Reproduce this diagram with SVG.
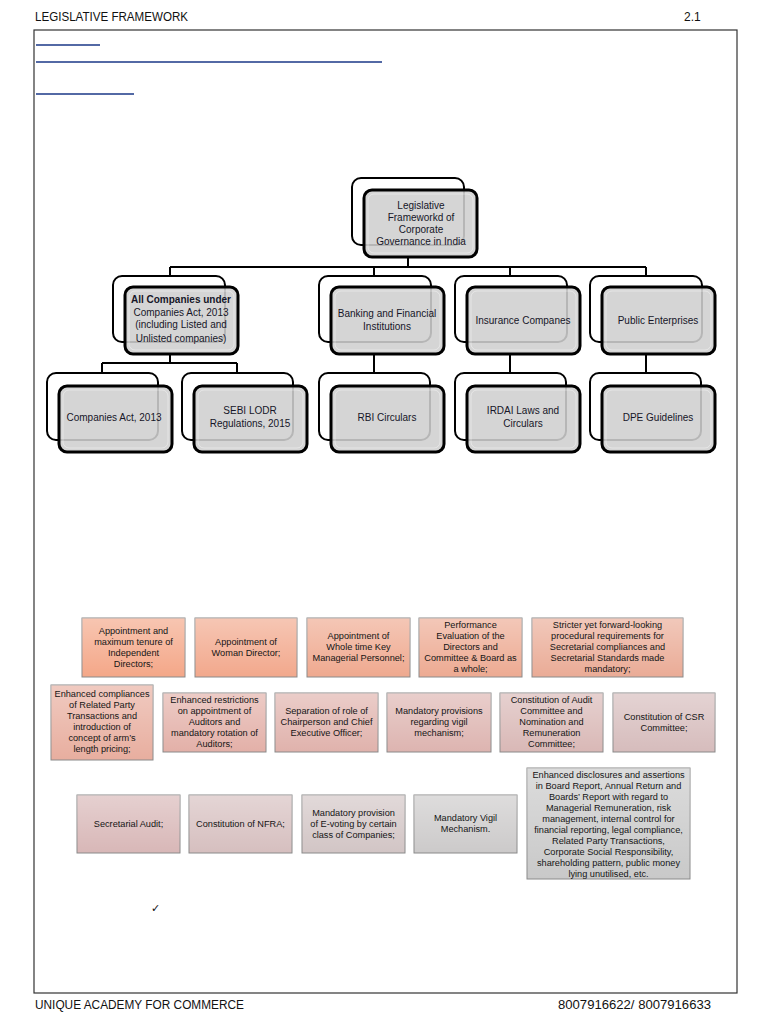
<svg xmlns="http://www.w3.org/2000/svg" width="768" height="1024" viewBox="0 0 768 1024">
<defs>
<linearGradient id="sheen" x1="0" y1="0" x2="0" y2="1">
<stop offset="0" stop-color="#ffffff" stop-opacity="0.35"/>
<stop offset="1" stop-color="#ffffff" stop-opacity="0"/>
</linearGradient>
<style>
.pg{font-family:"Liberation Sans",Arial,sans-serif;font-size:12px;fill:#111}
.back{fill:#ffffff;stroke:#000;stroke-width:2}
.front{fill:#cfcfcf;fill-opacity:0.88;stroke:#000;stroke-width:3}
.inner{fill:none;stroke:#ffffff;stroke-opacity:0.4;stroke-width:1}
.nt{font-family:"Liberation Sans",Arial,sans-serif;font-size:10px;fill:#161628;text-anchor:middle}
.bt{font-family:"Liberation Sans",Arial,sans-serif;font-size:9.2px;fill:#151515;text-anchor:middle}
.bx{stroke:#8a8a8a;stroke-width:1}
.sh{fill:url(#sheen)}
.con{fill:none;stroke:#000;stroke-width:2}
.ul{stroke:#1a3787;stroke-width:1.5}
</style>
</defs>
<rect width="768" height="1024" fill="#ffffff"/>
<text class="pg" x="35" y="21" textLength="153" lengthAdjust="spacingAndGlyphs">LEGISLATIVE FRAMEWORK</text>
<text class="pg" x="684" y="21">2.1</text>
<rect x="34" y="30" width="703" height="963" fill="none" stroke="#333" stroke-width="1.2"/>
<line class="ul" x1="36" y1="45" x2="100" y2="45"/>
<line class="ul" x1="36" y1="62" x2="382" y2="62"/>
<line class="ul" x1="36" y1="94" x2="134" y2="94"/>

<g id="connectors">
<path class="con" d="M408 257 V267 M170 267 H646 M170 267 V276 M374 267 V277 M510 267 V277 M646 267 V277"/>
<path class="con" d="M170 354 V363 M102 363 H237 M102 363 V373 M237 363 V373 M374 354 V373 M510 354 V373 M646 354 V373"/>
</g>

<g id="root">
<rect class="back" x="352" y="178" width="112" height="67" rx="9"/>
<rect class="front" x="364" y="190" width="113" height="67" rx="8"/>
<rect class="inner" x="368" y="194" width="105" height="59" rx="6"/>
<text class="nt" x="421" y="209">Legislative</text>
<text class="nt" x="421" y="221">Frameworkd of</text>
<text class="nt" x="421" y="233">Corporate</text>
<text class="nt" x="421" y="245">Governance in India</text>
</g>

<g id="all-companies">
<rect class="back" x="113" y="276" width="112" height="66" rx="9"/>
<rect class="front" x="125" y="287" width="113" height="67" rx="8"/>
<rect class="inner" x="129" y="291" width="105" height="59" rx="6"/>
<text class="nt" x="181" y="303" font-weight="bold" font-size="9">All Companies under</text>
<text class="nt" x="181" y="316">Companies Act, 2013</text>
<text class="nt" x="181" y="328">(including Listed and</text>
<text class="nt" x="181" y="342">Unlisted companies)</text>
</g>

<g id="banking">
<rect class="back" x="319" y="276" width="112" height="66" rx="9"/>
<rect class="front" x="331" y="287" width="113" height="67" rx="8"/>
<rect class="inner" x="335" y="291" width="105" height="59" rx="6"/>
<text class="nt" x="387" y="317">Banking and Financial</text>
<text class="nt" x="387" y="330">Institutions</text>
</g>

<g id="insurance">
<rect class="back" x="455" y="276" width="112" height="66" rx="9"/>
<rect class="front" x="467" y="287" width="113" height="67" rx="8"/>
<rect class="inner" x="471" y="291" width="105" height="59" rx="6"/>
<text class="nt" x="523" y="324">Insurance Companes</text>
</g>

<g id="public">
<rect class="back" x="590" y="276" width="112" height="66" rx="9"/>
<rect class="front" x="602" y="287" width="113" height="67" rx="8"/>
<rect class="inner" x="606" y="291" width="105" height="59" rx="6"/>
<text class="nt" x="658" y="324">Public Enterprises</text>
</g>

<g id="companies-act">
<rect class="back" x="47" y="373" width="111" height="67" rx="9"/>
<rect class="front" x="59" y="386" width="113" height="66" rx="8"/>
<rect class="inner" x="63" y="390" width="105" height="58" rx="6"/>
<text class="nt" x="114" y="421">Companies Act, 2013</text>
</g>

<g id="sebi">
<rect class="back" x="182" y="373" width="111" height="67" rx="9"/>
<rect class="front" x="194" y="386" width="113" height="66" rx="8"/>
<rect class="inner" x="198" y="390" width="105" height="58" rx="6"/>
<text class="nt" x="250" y="414">SEBI LODR</text>
<text class="nt" x="250" y="427">Regulations, 2015</text>
</g>

<g id="rbi">
<rect class="back" x="319" y="373" width="111" height="67" rx="9"/>
<rect class="front" x="331" y="386" width="113" height="66" rx="8"/>
<rect class="inner" x="335" y="390" width="105" height="58" rx="6"/>
<text class="nt" x="387" y="421">RBI Circulars</text>
</g>

<g id="irdai">
<rect class="back" x="455" y="373" width="111" height="67" rx="9"/>
<rect class="front" x="467" y="386" width="113" height="66" rx="8"/>
<rect class="inner" x="471" y="390" width="105" height="58" rx="6"/>
<text class="nt" x="523" y="414">IRDAI Laws and</text>
<text class="nt" x="523" y="427">Circulars</text>
</g>

<g id="dpe">
<rect class="back" x="590" y="373" width="111" height="67" rx="9"/>
<rect class="front" x="602" y="386" width="113" height="66" rx="8"/>
<rect class="inner" x="606" y="390" width="105" height="58" rx="6"/>
<text class="nt" x="658" y="421">DPE Guidelines</text>
</g>

<g id="b1">
<rect class="bx" x="82" y="618" width="103" height="59" fill="#F4A788"/>
<rect class="sh" x="82" y="618" width="103" height="59"/>
<text class="bt" x="133.5" y="634">Appointment and</text>
<text class="bt" x="133.5" y="645">maximum tenure of</text>
<text class="bt" x="133.5" y="656">Independent</text>
<text class="bt" x="133.5" y="667">Directors;</text>
</g>
<g id="b2">
<rect class="bx" x="195" y="618" width="102" height="59" fill="#F2A88C"/>
<rect class="sh" x="195" y="618" width="102" height="59"/>
<text class="bt" x="246" y="645">Appointment of</text>
<text class="bt" x="246" y="656">Woman Director;</text>
</g>
<g id="b3">
<rect class="bx" x="307" y="618" width="103" height="59" fill="#EFA98F"/>
<rect class="sh" x="307" y="618" width="103" height="59"/>
<text class="bt" x="358.5" y="639">Appointment of</text>
<text class="bt" x="358.5" y="650">Whole time Key</text>
<text class="bt" x="358.5" y="661">Managerial Personnel;</text>
</g>
<g id="b4">
<rect class="bx" x="419" y="618" width="103" height="59" fill="#EDAA92"/>
<rect class="sh" x="419" y="618" width="103" height="59"/>
<text class="bt" x="470.5" y="628">Performance</text>
<text class="bt" x="470.5" y="639">Evaluation of the</text>
<text class="bt" x="470.5" y="650">Directors and</text>
<text class="bt" x="470.5" y="661">Committee &amp; Board as</text>
<text class="bt" x="470.5" y="672">a whole;</text>
</g>
<g id="b5">
<rect class="bx" x="532" y="618" width="151" height="59" fill="#EAAB96"/>
<rect class="sh" x="532" y="618" width="151" height="59"/>
<text class="bt" x="607.5" y="628">Stricter yet forward-looking</text>
<text class="bt" x="607.5" y="639">procedural requirements for</text>
<text class="bt" x="607.5" y="650">Secretarial compliances and</text>
<text class="bt" x="607.5" y="661">Secretarial Standards made</text>
<text class="bt" x="607.5" y="672">mandatory;</text>
</g>

<g id="b6">
<rect class="bx" x="51" y="685" width="102" height="75" fill="#E8AE9F"/>
<rect class="sh" x="51" y="685" width="102" height="75"/>
<text class="bt" x="102" y="697">Enhanced compliances</text>
<text class="bt" x="102" y="708">of Related Party</text>
<text class="bt" x="102" y="719">Transactions and</text>
<text class="bt" x="102" y="730">introduction of</text>
<text class="bt" x="102" y="741">concept of arm’s</text>
<text class="bt" x="102" y="752">length pricing;</text>
</g>
<g id="b7">
<rect class="bx" x="163" y="693" width="103" height="59" fill="#E3B0A8"/>
<rect class="sh" x="163" y="693" width="103" height="59"/>
<text class="bt" x="214.5" y="703">Enhanced restrictions</text>
<text class="bt" x="214.5" y="714">on appointment of</text>
<text class="bt" x="214.5" y="725">Auditors and</text>
<text class="bt" x="214.5" y="736">mandatory rotation of</text>
<text class="bt" x="214.5" y="747">Auditors;</text>
</g>
<g id="b8">
<rect class="bx" x="275" y="693" width="103" height="59" fill="#E0B2AC"/>
<rect class="sh" x="275" y="693" width="103" height="59"/>
<text class="bt" x="326.5" y="714">Separation of role of</text>
<text class="bt" x="326.5" y="725">Chairperson and Chief</text>
<text class="bt" x="326.5" y="736">Executive Officer;</text>
</g>
<g id="b9">
<rect class="bx" x="387" y="693" width="104" height="59" fill="#DDB4B0"/>
<rect class="sh" x="387" y="693" width="104" height="59"/>
<text class="bt" x="439" y="714">Mandatory provisions</text>
<text class="bt" x="439" y="725">regarding vigil</text>
<text class="bt" x="439" y="736">mechanism;</text>
</g>
<g id="b10">
<rect class="bx" x="500" y="693" width="103" height="59" fill="#D9B8B6"/>
<rect class="sh" x="500" y="693" width="103" height="59"/>
<text class="bt" x="551.5" y="703">Constitution of Audit</text>
<text class="bt" x="551.5" y="714">Committee and</text>
<text class="bt" x="551.5" y="725">Nomination and</text>
<text class="bt" x="551.5" y="736">Remuneration</text>
<text class="bt" x="551.5" y="747">Committee;</text>
</g>
<g id="b11">
<rect class="bx" x="613" y="693" width="102" height="59" fill="#D6BCBC"/>
<rect class="sh" x="613" y="693" width="102" height="59"/>
<text class="bt" x="664" y="720">Constitution of CSR</text>
<text class="bt" x="664" y="731">Committee;</text>
</g>

<g id="b12">
<rect class="bx" x="77" y="795" width="103" height="58" fill="#D8B7B7"/>
<rect class="sh" x="77" y="795" width="103" height="58"/>
<text class="bt" x="128.5" y="827">Secretarial Audit;</text>
</g>
<g id="b13">
<rect class="bx" x="189" y="795" width="103" height="58" fill="#D6BFBF"/>
<rect class="sh" x="189" y="795" width="103" height="58"/>
<text class="bt" x="240.5" y="827">Constitution of NFRA;</text>
</g>
<g id="b14">
<rect class="bx" x="302" y="795" width="103" height="58" fill="#D2C5C5"/>
<rect class="sh" x="302" y="795" width="103" height="58"/>
<text class="bt" x="353.5" y="816">Mandatory provision</text>
<text class="bt" x="353.5" y="827">of E-voting by certain</text>
<text class="bt" x="353.5" y="838">class of Companies;</text>
</g>
<g id="b15">
<rect class="bx" x="414" y="795" width="103" height="58" fill="#CCCACA"/>
<rect class="sh" x="414" y="795" width="103" height="58"/>
<text class="bt" x="465.5" y="821">Mandatory Vigil</text>
<text class="bt" x="465.5" y="832">Mechanism.</text>
</g>
<g id="b16">
<rect class="bx" x="527" y="768" width="163" height="111" fill="#C9C9C9"/>
<rect class="sh" x="527" y="768" width="163" height="111"/>
<text class="bt" x="608.5" y="778">Enhanced disclosures and assertions</text>
<text class="bt" x="608.5" y="789">in Board Report, Annual Return and</text>
<text class="bt" x="608.5" y="800">Boards’ Report with regard to</text>
<text class="bt" x="608.5" y="811">Managerial Remuneration, risk</text>
<text class="bt" x="608.5" y="822">management, internal control for</text>
<text class="bt" x="608.5" y="833">financial reporting, legal compliance,</text>
<text class="bt" x="608.5" y="844">Related Party Transactions,</text>
<text class="bt" x="608.5" y="855">Corporate Social Responsibility,</text>
<text class="bt" x="608.5" y="866">shareholding pattern, public money</text>
<text class="bt" x="608.5" y="877">lying unutilised, etc.</text>
</g>

<text x="151" y="912" font-family="DejaVu Sans,sans-serif" font-size="11" fill="#111">✓</text>

<text class="pg" x="35" y="1009" textLength="209" lengthAdjust="spacingAndGlyphs">UNIQUE ACADEMY FOR COMMERCE</text>
<text class="pg" x="558" y="1009" textLength="153" lengthAdjust="spacingAndGlyphs">8007916622/ 8007916633</text>
</svg>
